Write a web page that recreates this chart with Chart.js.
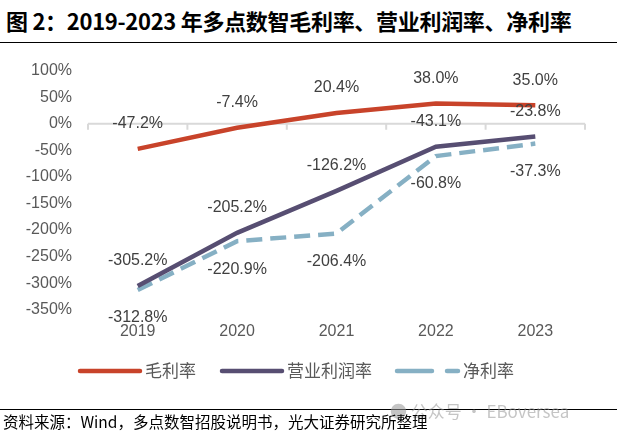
<!DOCTYPE html>
<html>
<head>
<meta charset="utf-8">
<script src="https://cdn.jsdelivr.net/npm/chart.js@4"></script>
<style>
  html, body { margin: 0; padding: 0; background: #fff; }
  body { width: 617px; height: 436px; position: relative; overflow: hidden; }
  #title {
    position: absolute; left: 6px; top: 4px;
    font: bold 22px "Noto Sans CJK SC", sans-serif; color: #000; letter-spacing: -0.3px;
  }
  #titleLine { position: absolute; left: 0; top: 42px; width: 617px; height: 0; border-top: 1.5px solid #000; }
  #wrap { position: absolute; left: 0; top: 45px; width: 617px; height: 355px; }
  #footLine { position: absolute; left: 0; top: 409px; width: 617px; border-top: 1px solid #000; }
  #source {
    position: absolute; left: 3px; top: 410px;
    font: 15.5px "Noto Sans CJK SC", sans-serif; color: #000;
  }
  #mark {
    position: absolute; left: 390px; top: 398px;
    font: 17px "Noto Sans CJK SC", sans-serif; color: rgba(150,150,150,0.55);
  }
</style>
</head>
<body>
<div id="title">图 2：2019-2023 年多点数智毛利率、营业利润率、净利率</div>
<div id="titleLine"></div>
<div id="wrap"><canvas id="chart" width="617" height="355"></canvas></div>
<div id="footLine"></div>
<div id="mark">● 公众号 · EBoversea</div>
<div id="source">资料来源：Wind，多点数智招股说明书，光大证券研究所整理</div>
<script>
const years = ["2019", "2020", "2021", "2022", "2023"];
const grossMargin = [-47.2, -7.4, 20.4, 38.0, 35.0];
const operatingMargin = [-305.2, -205.2, -126.2, -43.1, -23.8];
const netMargin = [-312.8, -220.9, -206.4, -60.8, -37.3];
const yTicks = [100, 50, 0, -50, -100, -150, -200, -250, -300, -350];

const RED = "#C8432A";
const PURPLE = "#574E72";
const BLUE = "#86B0C4";
const LABEL_FONT = '16px "Liberation Sans", Arial, sans-serif';

// labels above or below each series
const labelPlacement = ["above", "above", "below"];

const valueLabels = {
    id: "valueLabels",
    afterDatasetsDraw(chart) {
        const ctx = chart.ctx;
        ctx.save();
        ctx.font = LABEL_FONT;
        ctx.fillStyle = "#404040";
        ctx.textAlign = "center";
        ctx.textBaseline = "middle";
        chart.data.datasets.forEach((ds, i) => {
            const meta = chart.getDatasetMeta(i);
            meta.data.forEach((pt, j) => {
                const dy = labelPlacement[i] === "above" ? -25 : 28;
                ctx.fillText(ds.data[j].toFixed(1) + "%", pt.x, pt.y + dy);
            });
        });
        ctx.restore();
    },
};

// zero line with category boundary ticks
const zeroAxis = {
    id: "zeroAxis",
    beforeDatasetsDraw(chart) {
        const ctx = chart.ctx;
        const y0 = chart.scales.y.getPixelForValue(0);
        const area = chart.chartArea;
        ctx.save();
        ctx.strokeStyle = "#D9D9D9";
        ctx.lineWidth = 2;
        ctx.beginPath();
        ctx.moveTo(area.left, y0);
        ctx.lineTo(area.right, y0);
        const step = (area.right - area.left) / years.length;
        for (let k = 0; k <= years.length; k++) {
            const px = area.left + k * step;
            ctx.moveTo(px, y0);
            ctx.lineTo(px, y0 + 6);
        }
        ctx.stroke();
        ctx.restore();
    },
};

const lineLegend = {
    id: "lineLegend",
    afterDraw(chart) {
        const ctx = chart.ctx;
        const y = 326;
        const items = [
            { color: RED, x: 80, dash: [], len: 60, text: "毛利率" },
            { color: PURPLE, x: 222, dash: [], len: 60, text: "营业利润率" },
            { color: BLUE, x: 397, dash: [35, 15], len: 61, text: "净利率" },
        ];
        ctx.save();
        items.forEach((it) => {
            ctx.strokeStyle = it.color;
            ctx.lineWidth = 4.5;
            ctx.lineCap = "round";
            ctx.setLineDash(it.dash);
            ctx.beginPath();
            ctx.moveTo(it.x, y);
            ctx.lineTo(it.x + it.len, y);
            ctx.stroke();
            ctx.setLineDash([]);
            ctx.font = '17px "Noto Sans CJK SC", sans-serif';
            ctx.fillStyle = "#595959";
            ctx.textBaseline = "middle";
            ctx.textAlign = "left";
            ctx.fillText(it.text, it.x + it.len + 5, y);
        });
        ctx.restore();
    },
};

new Chart(document.getElementById("chart"), {
    type: "line",
    data: {
        labels: years,
        datasets: [
            { label: "毛利率", data: grossMargin, borderColor: RED, borderWidth: 4.5, pointRadius: 0, tension: 0 },
            { label: "营业利润率", data: operatingMargin, borderColor: PURPLE, borderWidth: 4.5, pointRadius: 0, tension: 0 },
            { label: "净利率", data: netMargin, borderColor: BLUE, borderWidth: 4.5, borderDash: [16, 8], pointRadius: 0, tension: 0 },
        ],
    },
    options: {
        responsive: false,
        animation: false,
        layout: { padding: { top: 25, right: 32, left: 0, bottom: 55 } },
        plugins: { legend: { display: false }, tooltip: { enabled: false } },
        scales: {
            x: {
                offset: true,
                grid: { display: false },
                border: { display: false },
                ticks: { font: { size: 16, family: '"Liberation Sans", Arial, sans-serif' }, color: "#595959", padding: 4 },
            },
            y: {
                min: -350,
                max: 100,
                afterBuildTicks(scale) {
                    scale.ticks = yTicks.map((v) => ({ value: v }));
                },
                afterFit(scale) {
                    scale.width = 88;
                },
                grid: { display: false, drawTicks: false },
                border: { display: false },
                ticks: {
                    font: { size: 16, family: '"Liberation Sans", Arial, sans-serif' },
                    color: "#595959",
                    padding: 16,
                    callback: (v) => v + "%",
                },
            },
        },
    },
    plugins: [valueLabels, zeroAxis, lineLegend],
});
</script>
</body>
</html>
